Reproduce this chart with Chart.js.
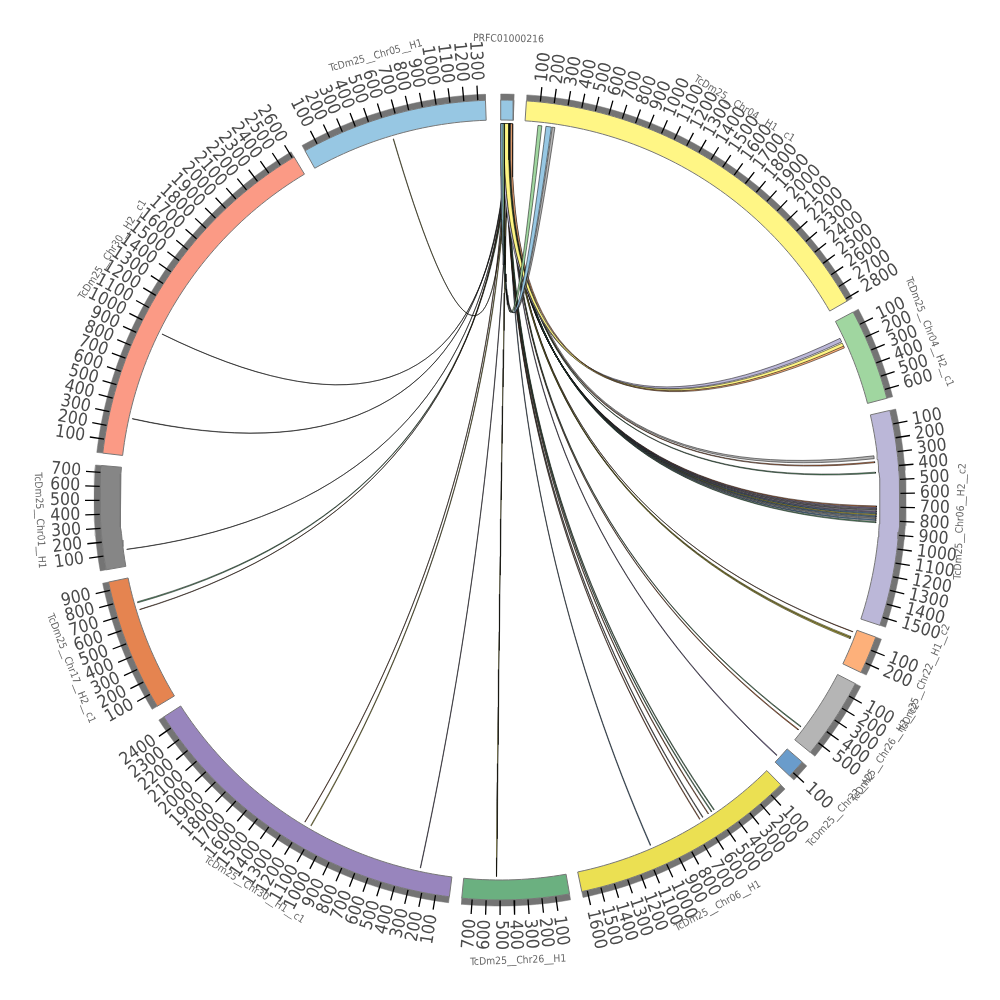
<!DOCTYPE html>
<html>
<head>
<meta charset="utf-8">
<script src="https://cdn.jsdelivr.net/npm/chart.js@4"></script>
<style>
  html, body { margin: 0; background: #fff; }
  canvas { display: block; }
</style>
</head>
<body>
<canvas id="chart" width="1000" height="1000"></canvas>
<script>
// sectors, clockwise from the top, lengths in kb
const sectorNames = ['PRFC01000216', 'TcDm25__Chr04__H1__c1', 'TcDm25__Chr04__H2__c1', 'TcDm25__Chr06__H2__c2',
  'TcDm25__Chr22__H1__c2', 'TcDm25__Chr26__H2__c2', 'TcDm25__Chr22__H2', 'TcDm25__Chr06__H1', 'TcDm25__Chr26__H1',
  'TcDm25__Chr30__H1__c1', 'TcDm25__Chr17__H2__c1', 'TcDm25__Chr01__H1', 'TcDm25__Chr30__H2__c1', 'TcDm25__Chr05__H1'];
const sectorLengths = [95, 2820, 665, 1560, 275, 590, 135, 1640, 775, 2495, 960, 750, 2615, 1355];
const sectorColors = ['#97c7e3', '#fff685', '#a0d6a0', '#bbb7d8', '#fdb07a', '#b5b5b5', '#6a9ccb',
  '#ebe052', '#6bb080', '#9885bd', '#e58450', '#868686', '#fb9a85', '#97c7e3'];

// links: all of them end on the first sector
const linkSector     = [13, 12, 12, 11, 10, 10, 9, 9, 9, 8, 7, 7, 7, 7, 7, 7, 6, 5, 5, 4, 4, 4, 3, 3, 3, 3, 3, 3, 3, 3, 3, 3, 3, 3, 3, 2, 2, 2, 1, 1, 1];
const linkPos        = [635, 970, 285, 125, 760, 705, 1195, 1140, 245, 525, 1050, 625, 598, 548, 518, 495, 85, 510, 480, 20, 60, 70, 310, 355, 435, 692, 705, 718, 732, 744, 756, 768, 781, 796, 812, 130, 170, 195, 210, 161, 100];
const linkSize       = [3, 2, 3, 2, 8, 3, 3, 5, 3, 5, 5, 5, 5, 5, 6, 6, 6, 6, 6, 3, 8, 8, 22, 8, 8, 8, 8, 8, 8, 8, 8, 8, 8, 8, 8, 30, 30, 15, 20, 42, 30];
const linkTarget     = [45, 50, 48, 60, 62, 58, 40, 55, 66, 52, 68, 44, 46, 50, 54, 57, 72, 70, 74, 64, 56, 58, 66, 60, 63, 30, 33, 36, 39, 42, 45, 48, 51, 54, 57, 5, 24, 78, 0, 2, 18];
const linkTargetSize = [3, 2, 3, 2, 8, 3, 3, 5, 3, 5, 5, 5, 5, 5, 6, 6, 6, 6, 6, 3, 8, 8, 22, 8, 8, 8, 8, 8, 8, 8, 8, 8, 8, 8, 8, 20, 38, 15, 15, 20, 12];
const linkHue        = [7, 11, 11, 11, 8, 10, 10, 7, 9, 7, 6, 10, 11, 10, 8, 8, 9, 10, 8, 10, 7, 7, 5, 10, 8, 10, 9, 11, 9, 6, 7, 6, 5, 6, 8, 3, 1, 4, 5, 13, 2];

const DEG_PER_KB = 0.02;
const GAP = 1.786;
const START = 0.1;
const TICK_STEP = 100;

const sectorStarts = [];
let cursor = START;
sectorLengths.forEach(len => {
  sectorStarts.push(cursor);
  cursor += len * DEG_PER_KB + GAP;
});

// degrees clockwise from the top -> data coordinates, centre at 0,0
const polar = (deg, r) => {
  const a = deg * Math.PI / 180;
  return { x: r * Math.sin(a), y: r * Math.cos(a) };
};
const posAngle = (sector, kb) => sectorStarts[sector] + kb * DEG_PER_KB;

const band = (from, to, r1, r2) => {
  const pts = [];
  const n = Math.max(2, Math.ceil((to - from) / 1));
  for (let i = 0; i <= n; i++) pts.push(polar(from + (to - from) * i / n, r2));
  for (let i = n; i >= 0; i--) pts.push(polar(from + (to - from) * i / n, r1));
  pts.push(pts[0]);
  return pts;
};

// quadratic curve between two rim points pulled through the centre
const curve = (a, b, steps) => {
  const pts = [];
  for (let i = 0; i <= steps; i++) {
    const t = i / steps;
    const k0 = (1 - t) * (1 - t), k2 = t * t;
    pts.push({ x: k0 * a.x + k2 * b.x, y: k0 * a.y + k2 * b.y });
  }
  return pts;
};

const R_LINK = 376.5, R_IN = 380, R_OUT = 400, R_GREY = 406, R_TICK = 415, R_TEXT = 420, R_NAME = 461;

const datasets = [];
const lineDefaults = { showLine: true, pointRadius: 0, pointHoverRadius: 0, tension: 0 };

// links first so that the drawing order stays readable
linkSector.forEach((sector, i) => {
  const s1 = posAngle(sector, linkPos[i]);
  const s2 = posAngle(sector, linkPos[i] + linkSize[i]);
  const t1 = posAngle(0, linkTarget[i]);
  const t2 = posAngle(0, linkTarget[i] + linkTargetSize[i]);
  const pts = [
    ...curve(polar(s2, R_LINK), polar(t1, R_LINK), 40),
    ...curve(polar(t2, R_LINK), polar(s1, R_LINK), 40)
  ];
  pts.push(pts[0]);
  datasets.push({ ...lineDefaults, data: pts, shapeFill: sectorColors[linkHue[i]], borderColor: '#000', borderWidth: 0.5 });
});

sectorLengths.forEach((len, i) => {
  const from = sectorStarts[i];
  const to = from + len * DEG_PER_KB;
  datasets.push({ ...lineDefaults, data: band(from, to, R_OUT, R_GREY), shapeFill: '#747474', borderColor: '#747474', borderWidth: 0.5 });
  datasets.push({ ...lineDefaults, data: band(from, to, R_IN, R_OUT), shapeFill: sectorColors[i], borderColor: '#777', borderWidth: 1 });
  const tickPts = [];
  for (let kb = TICK_STEP; kb <= len; kb += TICK_STEP) {
    tickPts.push(polar(posAngle(i, kb), R_OUT + 0.5), polar(posAngle(i, kb), R_TICK), { x: NaN, y: NaN });
  }
  if (tickPts.length) datasets.push({ ...lineDefaults, data: tickPts, borderColor: '#000', borderWidth: 1.3, spanGaps: false });
});

// fills the closed outline of a dataset just before its line is stroked
const shapeFillPlugin = {
  id: 'shapeFill',
  beforeDatasetDraw(chart, args) {
    const fillColor = chart.data.datasets[args.index].shapeFill;
    if (!fillColor) return;
    const ctx = chart.ctx;
    ctx.save();
    ctx.beginPath();
    args.meta.data.forEach((p, i) => (i ? ctx.lineTo(p.x, p.y) : ctx.moveTo(p.x, p.y)));
    ctx.closePath();
    ctx.fillStyle = fillColor;
    ctx.fill();
    ctx.restore();
  }
};

const circleTextPlugin = {
  id: 'circleText',
  afterDatasetsDraw(chart) {
    const { ctx, scales } = chart;
    const place = (deg, r, rotation, align, font, color, text) => {
      const p = polar(deg, r);
      ctx.save();
      ctx.translate(scales.x.getPixelForValue(p.x), scales.y.getPixelForValue(p.y));
      ctx.rotate(rotation * Math.PI / 180);
      ctx.textAlign = align;
      ctx.textBaseline = 'middle';
      ctx.font = font;
      ctx.fillStyle = color;
      ctx.fillText(text, 0, 0);
      ctx.restore();
    };
    sectorLengths.forEach((len, i) => {
      for (let kb = TICK_STEP; kb <= len; kb += TICK_STEP) {
        const deg = posAngle(i, kb);
        const right = deg < 180;
        place(deg, R_TEXT, right ? deg - 90 : deg + 90, right ? 'left' : 'right',
          '17.5px "DejaVu Sans Condensed", "DejaVu Sans"', '#4a4a4a', String(kb));
      }
      const mid = posAngle(i, len / 2);
      let turn = mid;
      if (mid > 90 && mid < 270) turn = mid - 180;
      else if (mid >= 270) turn = mid - 360;
      place(mid, R_NAME, turn, 'center', '10.3px "DejaVu Sans Condensed", "DejaVu Sans"', '#666', sectorNames[i]);
    });
  }
};

new Chart(document.getElementById('chart'), {
  type: 'scatter',
  data: { datasets: datasets.reverse() }, // first dataset is painted last
  options: {
    responsive: false,
    animation: false,
    events: [],
    plugins: { legend: { display: false }, tooltip: { enabled: false }, title: { display: false } },
    scales: {
      x: { type: 'linear', min: -500, max: 500, display: false },
      y: { type: 'linear', min: -500, max: 500, display: false }
    }
  },
  plugins: [shapeFillPlugin, circleTextPlugin]
});
</script>
</body>
</html>
